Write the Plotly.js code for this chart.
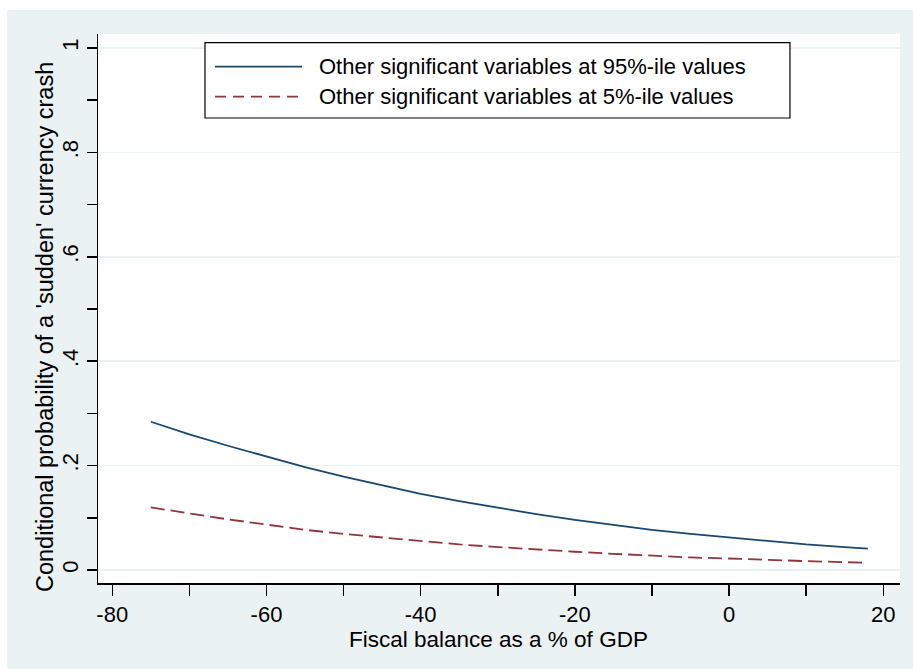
<!DOCTYPE html>
<html>
<head>
<meta charset="utf-8">
<script src="https://cdn.plot.ly/plotly-3.0.1.min.js"></script>
<style>html,body{margin:0;padding:0;background:#fff;}#chart{width:913px;height:669px;}</style>
</head>
<body>
<div id="chart"></div>
<script>
// Fiscal balance (% of GDP)
var fiscalBalance = [-75, -70, -65, -60, -55, -50, -45, -40, -35, -30, -25, -20, -15, -10, -5, 0, 5, 10, 15, 18];
// Series
var prob95 = [0.284, 0.260, 0.238, 0.217, 0.197, 0.179, 0.162, 0.146, 0.132, 0.119, 0.107, 0.096, 0.086, 0.077, 0.069, 0.062, 0.055, 0.049, 0.044, 0.041];
var prob5  = [0.120, 0.108, 0.097, 0.087, 0.077, 0.069, 0.062, 0.055, 0.049, 0.044, 0.039, 0.035, 0.031, 0.027, 0.024, 0.022, 0.019, 0.017, 0.015, 0.014];
var seriesNames = ["Other significant variables at 95%-ile values", "Other significant variables at 5%-ile values"];
var yTitle = "Conditional probability of a 'sudden' currency crash";
var xTitle = "Fiscal balance as a % of GDP";
var yTickVals = [0, 0.2, 0.4, 0.6, 0.8, 1];
var yTickText = ["0", ".2", ".4", ".6", ".8", "1"];
var xTickVals = [-80, -60, -40, -20, 0, 20];
var xTickText = ["-80", "-60", "-40", "-20", "0", "20"];

var blue = "#1a476f", red = "#90353b", bg = "#eaf2f3";
var font = "Liberation Sans, Arial, sans-serif";

var traces = [
  {x: fiscalBalance, y: prob95, type: "scatter", mode: "lines", name: seriesNames[0],
   line: {color: blue, width: 1.8}, showlegend: false},
  {x: fiscalBalance, y: prob5, type: "scatter", mode: "lines", name: seriesNames[1],
   line: {color: red, width: 1.8, dash: "14px,6px"}, showlegend: false}
];

var layout = {
  width: 913, height: 669,
  margin: {l: 98, r: 13, t: 34, b: 86},
  paper_bgcolor: bg,
  plot_bgcolor: "#ffffff",
  font: {family: font, size: 22, color: "#000"},
  xaxis: {
    range: [-81.85, 22.17],
    tickmode: "array", tickvals: xTickVals, ticktext: xTickText,
    ticks: "outside", ticklen: 11, tickwidth: 1.5, tickcolor: "#000",
    minor: {dtick: 10, tick0: -80, ticks: "outside", ticklen: 11, tickwidth: 1.5, tickcolor: "#000", showgrid: false},
    showline: true, linecolor: "#000", linewidth: 1.5,
    showgrid: false, zeroline: false,
    tickfont: {size: 22}
  },
  yaxis: {
    range: [-0.0249, 1.0268],
    tickmode: "array", tickvals: yTickVals, ticktext: yTickText,
    tickangle: -90,
    ticks: "outside", ticklen: 10, tickwidth: 1.5, tickcolor: "#000",
    minor: {dtick: 0.1, tick0: 0, ticks: "outside", ticklen: 10, tickwidth: 1.5, tickcolor: "#000", showgrid: false},
    showline: true, linecolor: "#000", linewidth: 1.5,
    showgrid: true, gridcolor: bg, gridwidth: 1.5, zeroline: false,
    tickfont: {size: 22}
  },
  shapes: [
    {type: "rect", xref: "paper", yref: "paper", x0: -0.125, x1: 1.02, y0: 1.0437, y1: 1.07, fillcolor: "#fff", line: {width: 0}, layer: "below"},
    {type: "rect", xref: "paper", yref: "paper", x0: -0.125, x1: -0.1135, y0: -0.16, y1: 1.07, fillcolor: "#fff", line: {width: 0}, layer: "below"},
    {type: "rect", xref: "paper", yref: "paper", x0: 0.1334, x1: 0.8628, y0: 0.847, y1: 0.9842, fillcolor: "#fff", line: {color: "#000", width: 1.2}},
    {type: "line", xref: "paper", yref: "paper", x0: 0.1459, x1: 0.2544, y0: 0.9404, y1: 0.9404, line: {color: blue, width: 1.8}},
    {type: "line", xref: "paper", yref: "paper", x0: 0.1459, x1: 0.2544, y0: 0.8858, y1: 0.8858, line: {color: red, width: 1.8, dash: "11px,7px"}}
  ],
  annotations: [
    {xref: "paper", yref: "paper", x: 0.2731, y: 0.9404, xanchor: "left", yanchor: "middle", text: seriesNames[0], showarrow: false, font: {size: 22, color: "#000"}},
    {xref: "paper", yref: "paper", x: 0.2731, y: 0.8858, xanchor: "left", yanchor: "middle", text: seriesNames[1], showarrow: false, font: {size: 22, color: "#000"}},
    {xref: "paper", yref: "paper", x: -0.0661, y: 0.4663, xanchor: "center", yanchor: "middle", textangle: -90, text: yTitle, showarrow: false, font: {size: 23.5, color: "#000"}},
    {xref: "paper", yref: "paper", x: 0.4994, y: -0.1035, xanchor: "center", yanchor: "middle", text: xTitle, showarrow: false, font: {size: 22.5, color: "#000"}}
  ]
};

Plotly.newPlot("chart", traces, layout, {displayModeBar: false, staticPlot: true});
</script>
</body>
</html>
